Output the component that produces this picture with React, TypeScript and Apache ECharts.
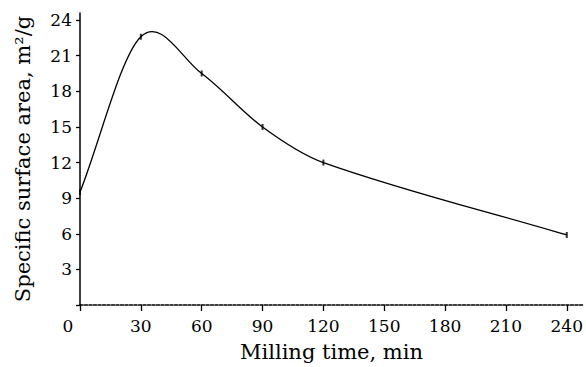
import React, { useEffect, useRef } from "react";
import * as echarts from "echarts";

const millingTime = [0, 30, 60, 90, 120, 240];
const surfaceArea = [9.5, 22.6, 19.5, 15.0, 12.0, 5.9];
const xTickValues = [0, 30, 60, 90, 120, 150, 180, 210, 240];
const yTickValues = [0, 3, 6, 9, 12, 15, 18, 21, 24];
const yLabelValues = [3, 6, 9, 12, 15, 18, 21, 24];

function tangents(xs: number[], ys: number[]) {
  const n = xs.length;
  return xs.map((_, i) => {
    if (i === 0) return (ys[1] - ys[0]) / (xs[1] - xs[0]);
    if (i === n - 1) return (ys[n - 1] - ys[n - 2]) / (xs[n - 1] - xs[n - 2]);
    return (ys[i + 1] - ys[i - 1]) / (xs[i + 1] - xs[i - 1]);
  });
}

export default function App() {
  const ref = useRef<HTMLDivElement>(null);
  useEffect(() => {
    if (!ref.current) return;
    const chart = echarts.init(ref.current, null, { renderer: "svg" });
    const font = "DejaVu Serif";
    const m = tangents(millingTime, surfaceArea);
    const renderCurve = (params: any, api: any) => {
      if (params.dataIndex !== 0) return null;
      const p0 = api.coord([millingTime[0], surfaceArea[0]]);
      let d = `M${p0[0]},${p0[1]}`;
      for (let i = 0; i < millingTime.length - 1; i++) {
        const x0 = millingTime[i], x1 = millingTime[i + 1];
        const y0 = surfaceArea[i], y1 = surfaceArea[i + 1];
        const h = x1 - x0;
        const c1 = api.coord([x0 + h / 3, y0 + (m[i] * h) / 3]);
        const c2 = api.coord([x1 - h / 3, y1 - (m[i + 1] * h) / 3]);
        const p1 = api.coord([x1, y1]);
        d += ` C${c1[0]},${c1[1]} ${c2[0]},${c2[1]} ${p1[0]},${p1[1]}`;
      }
      return {
        type: "path",
        shape: { pathData: d },
        style: { stroke: "#000", fill: "none", lineWidth: 1.3 },
      };
    };
    chart.setOption({
      animation: false,
      backgroundColor: "#ffffff",
      grid: { left: 80, right: 2, top: 13, bottom: 60 },
      xAxis: {
        type: "value",
        min: 0,
        max: 248,
        name: "Milling time, min",
        nameLocation: "middle",
        nameGap: 36,
        nameTextStyle: { fontFamily: font, fontSize: 21, color: "#000" },
        axisLine: { lineStyle: { color: "#000", width: 1.5, type: [3, 1.5] } },
        axisTick: { customValues: xTickValues, length: 6, lineStyle: { color: "#000", width: 1.3 } },
        axisLabel: {
          customValues: xTickValues,
          fontFamily: font,
          fontSize: 17,
          color: "#000",
          margin: 12,
          formatter: (v: number) => (v === 0 ? "{z|0}" : String(v)),
          rich: { z: { fontFamily: font, fontSize: 17, color: "#000", padding: [0, 24, 0, 0] } },
        },
        splitLine: { show: false },
      },
      yAxis: {
        type: "value",
        min: 0,
        max: 24.6,
        name: "Specific surface area, m²/g",
        nameLocation: "middle",
        nameGap: 47,
        nameTextStyle: { fontFamily: font, fontSize: 21, color: "#000" },
        axisLine: { show: true, lineStyle: { color: "#000", width: 1.5 } },
        axisTick: { show: true, customValues: yTickValues, length: 4, lineStyle: { color: "#000", width: 1.3 } },
        axisLabel: { customValues: yLabelValues, fontFamily: font, fontSize: 17, color: "#000", margin: 8 },
        splitLine: { show: false },
      },
      series: [
        {
          type: "custom",
          renderItem: renderCurve,
          data: millingTime.map((t, i) => [t, surfaceArea[i]]),
          encode: { x: 0, y: 1 },
          z: 2,
        },
        {
          type: "scatter",
          data: millingTime.map((t, i) => [t, surfaceArea[i]]),
          symbol: "rect",
          symbolSize: [2, 6],
          itemStyle: { color: "#000" },
          z: 3,
        },
      ],
    });
    return () => chart.dispose();
  }, []);
  return <div ref={ref} style={{ position: "fixed", left: 0, top: 0, width: 586, height: 367 }} />;
}
